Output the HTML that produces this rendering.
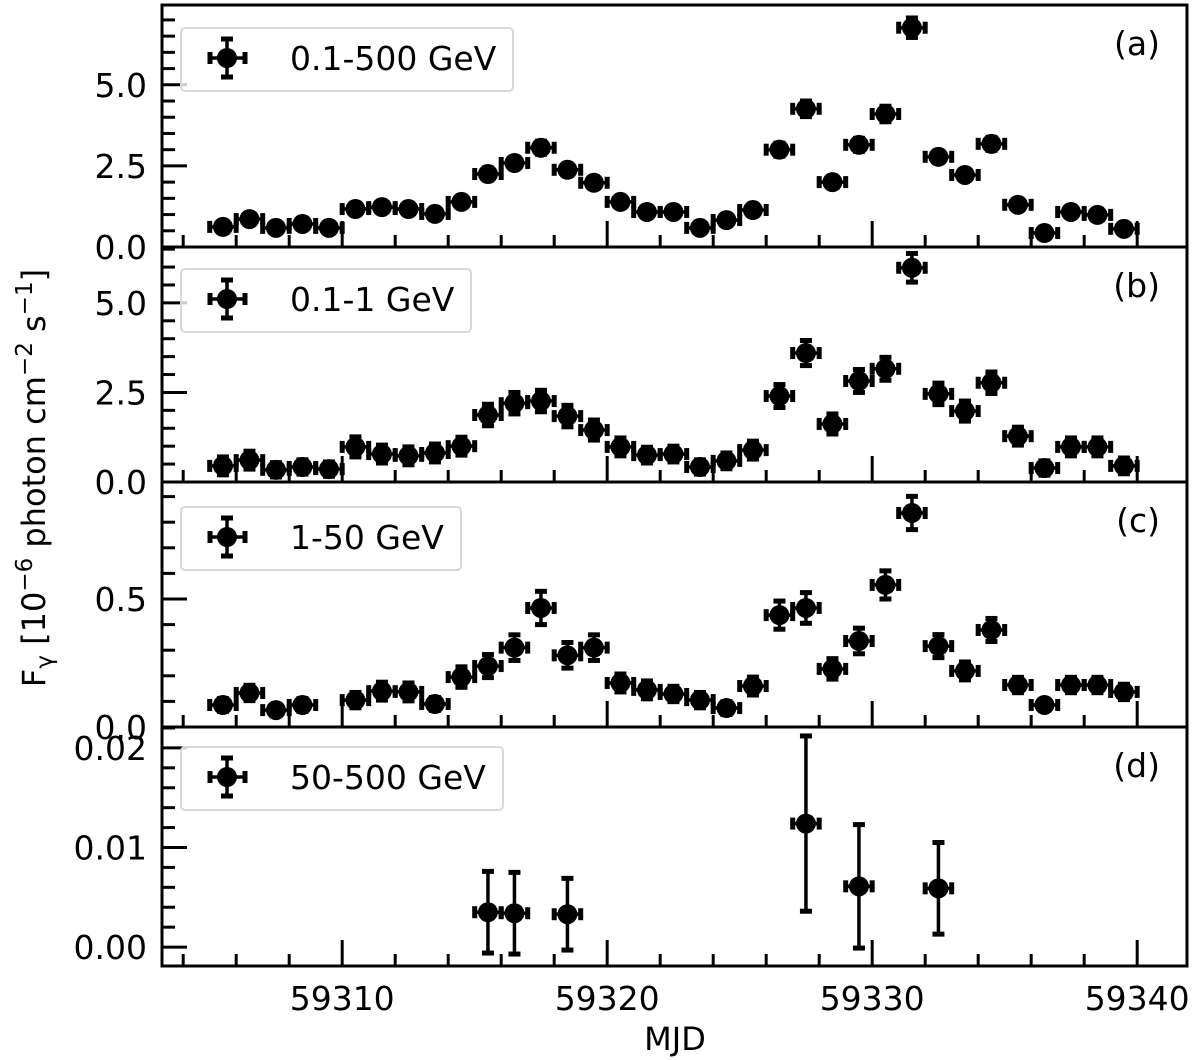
<!DOCTYPE html>
<html><head><meta charset="utf-8"><style>
body{margin:0;background:#fff;}
svg{display:block;font-family:"DejaVu Sans","Liberation Sans",sans-serif;}
</style></head><body>
<svg id="chart" width="1200" height="1060" viewBox="0 0 1200 1060" xmlns="http://www.w3.org/2000/svg">
<text transform="translate(45,478) rotate(-90)" text-anchor="middle" font-size="32">F<tspan font-size="23" dy="7">γ</tspan><tspan dy="-7"> [10</tspan><tspan font-size="23" dy="-13">−6</tspan><tspan dy="13"> photon cm</tspan><tspan font-size="23" dy="-13">−2</tspan><tspan dy="13"> s</tspan><tspan font-size="23" dy="-13">−1</tspan><tspan dy="13">]</tspan></text>
<text x="675" y="1050" text-anchor="middle" font-size="32">MJD</text>
</svg>
<script>
const startMJD = 59305.5;
const fluxA = [0.62,0.86,0.59,0.71,0.59,1.17,1.23,1.17,1.02,1.39,2.25,2.59,3.06,2.38,1.98,1.39,1.08,1.08,0.59,0.83,1.14,3.0,4.26,2.0,3.15,4.1,6.76,2.78,2.22,3.18,1.3,0.43,1.08,0.99,0.56];
const errA = [0.12,0.12,0.12,0.12,0.12,0.14,0.14,0.14,0.14,0.14,0.18,0.18,0.2,0.18,0.16,0.14,0.14,0.14,0.12,0.12,0.14,0.2,0.24,0.16,0.2,0.24,0.3,0.18,0.16,0.2,0.14,0.1,0.14,0.14,0.12];
const fluxB = [0.45,0.61,0.34,0.42,0.36,0.98,0.78,0.73,0.81,1.0,1.87,2.2,2.26,1.84,1.45,0.98,0.75,0.78,0.42,0.59,0.89,2.4,3.6,1.62,2.82,3.16,5.98,2.46,1.98,2.77,1.28,0.39,0.98,0.98,0.45];
const errB = [0.25,0.25,0.2,0.2,0.2,0.28,0.25,0.25,0.25,0.25,0.3,0.3,0.3,0.3,0.28,0.25,0.22,0.22,0.2,0.22,0.25,0.32,0.35,0.28,0.32,0.32,0.4,0.3,0.28,0.3,0.25,0.2,0.25,0.25,0.22];
const fluxC = [0.086,0.133,0.066,0.086,null,0.105,0.14,0.137,0.09,0.195,0.238,0.31,0.465,0.28,0.31,0.172,0.145,0.129,0.105,0.074,0.16,0.437,0.465,0.227,0.336,0.555,0.836,0.316,0.219,0.379,0.164,0.086,0.164,0.164,0.137];
const errC = [0.025,0.03,0.02,0.025,null,0.03,0.035,0.035,0.025,0.04,0.045,0.05,0.065,0.05,0.05,0.035,0.035,0.03,0.03,0.025,0.035,0.055,0.06,0.04,0.05,0.055,0.065,0.045,0.035,0.045,0.03,0.02,0.03,0.03,0.03];
const datesD = [59315.5,59316.5,59318.5,59327.5,59329.5,59332.5];
const fluxD = [0.0035,0.0034,0.0033,0.0124,0.0061,0.0059];
const errD = [0.0041,0.0041,0.0036,0.0088,0.0062,0.0046];
const xTicks = [59310,59320,59330,59340];

const svg = document.getElementById('chart');
const NS = 'http://www.w3.org/2000/svg';
const X0 = 162, X1 = 1187;
const xmin = 59303.2, xmax = 59341.88;
function xs(d){ return X0 + (d - xmin) / (xmax - xmin) * (X1 - X0); }
function mk(tag, attrs, parent){
  const e = document.createElementNS(NS, tag);
  for (const k in attrs) e.setAttribute(k, attrs[k]);
  (parent || svg).appendChild(e);
  return e;
}
const panels = [
 {id:'a', top:5, bot:247, ymin:0, ymax:7.46, major:[0,2.5,5.0], fmt:v=>v.toFixed(1), minor:0.5, label:'0.1-500 GeV', lw:332, ly:28,
  dates:fluxA.map((v,i)=>startMJD+i), vals:fluxA, errs:errA},
 {id:'b', top:247, bot:482, ymin:0, ymax:6.56, major:[0,2.5,5.0], fmt:v=>v.toFixed(1), minor:0.5, label:'0.1-1 GeV', lw:290, ly:269,
  dates:fluxB.map((v,i)=>startMJD+i), vals:fluxB, errs:errB},
 {id:'c', top:482, bot:727, ymin:0, ymax:0.957, major:[0,0.5], fmt:v=>v.toFixed(1), minor:0.1, label:'1-50 GeV', lw:280, ly:507,
  dates:fluxC.map((v,i)=>startMJD+i), vals:fluxC, errs:errC},
 {id:'d', top:727, bot:966, ymin:-0.0019, ymax:0.0221, major:[0,0.01,0.02], fmt:v=>v.toFixed(2), minor:0.002, label:'50-500 GeV', lw:322, ly:747,
  dates:datesD, vals:fluxD, errs:errD}
];
panels.forEach((p, pi) => {
  const g = mk('g', {});
  
  
  const ys = v => p.bot - (v - p.ymin) / (p.ymax - p.ymin) * (p.bot - p.top);
  const yticks = mk('g', {stroke:'#000','stroke-width':3}, g);
  
  
  for (let v = Math.ceil(p.ymin / p.minor) * p.minor; v <= p.ymax + 1e-9; v += p.minor) {
    const isMaj = p.major.some(m => Math.abs(m - v) < p.minor / 10);
    const y = ys(v);
    mk('line', {x1:X0, x2:X0 + (isMaj ? 25 : 13), y1:y, y2:y}, yticks);
  }
  p.major.forEach(m => {
    const t = mk('text', {x:147, y:ys(m) + 12, 'text-anchor':'end', 'font-size':33, fill:'#000'}, g);
    
    
    t.textContent = p.fmt(m);
  });
  const xt = mk('g', {stroke:'#000','stroke-width':3}, g);
  
  
  for (let d = 59304; d <= 59341; d += 2) {
    const isMaj = d % 10 === 0;
    const x = xs(d);
    mk('line', {x1:x, x2:x, y1:p.bot, y2:p.bot - (isMaj ? 26 : 12)}, xt);
  }
  const series = mk('g', {fill:'#000', stroke:'#000', 'stroke-width':3.5}, g);
  
  
  p.vals.forEach((v, i) => {
    if (v === null) return;
    const x = xs(p.dates[i]), y = ys(v);
    const xl = xs(p.dates[i] - 0.5), xr = xs(p.dates[i] + 0.5);
    const yt = ys(v + p.errs[i]), yb = ys(v - p.errs[i]);
    const pt = mk('g', {}, series);
    
    
    mk('line', {x1:xl, x2:xr, y1:y, y2:y}, pt);
    mk('line', {x1:x, x2:x, y1:yt, y2:yb}, pt);
    mk('line', {x1:xl, x2:xl, y1:y - 6, y2:y + 6, 'stroke-width':5}, pt);
    mk('line', {x1:xr, x2:xr, y1:y - 6, y2:y + 6, 'stroke-width':5}, pt);
    mk('line', {x1:x - 6, x2:x + 6, y1:yt, y2:yt, 'stroke-width':5}, pt);
    mk('line', {x1:x - 6, x2:x + 6, y1:yb, y2:yb, 'stroke-width':5}, pt);
    mk('circle', {cx:x, cy:y, r:10, stroke:'none'}, pt);
  });
  const lg = mk('g', {}, g);
  
  
  mk('rect', {x:181, y:p.ly, width:p.lw, height:63, rx:4, fill:'#fff', 'fill-opacity':0.8, stroke:'#d8d8d8', 'stroke-width':2}, lg);
  const cy = p.ly + 30;
  const lm = mk('g', {stroke:'#000', 'stroke-width':3.5}, lg);
  mk('line', {x1:210, x2:245, y1:cy, y2:cy}, lm);
  mk('line', {x1:227, x2:227, y1:cy - 19, y2:cy + 19}, lm);
  mk('line', {x1:210, x2:210, y1:cy - 6, y2:cy + 6, 'stroke-width':5}, lm);
  mk('line', {x1:245, x2:245, y1:cy - 6, y2:cy + 6, 'stroke-width':5}, lm);
  mk('line', {x1:221, x2:233, y1:cy - 19, y2:cy - 19, 'stroke-width':5}, lm);
  mk('line', {x1:221, x2:233, y1:cy + 19, y2:cy + 19, 'stroke-width':5}, lm);
  mk('circle', {cx:227, cy:cy, r:10, fill:'#000', stroke:'none'}, lm);
  const lt = mk('text', {x:290, y:cy + 12, 'font-size':33, fill:'#000'}, lg);
  
  
  lt.textContent = p.label;
  const pl = mk('text', {x:1160, y:p.top + 50, 'text-anchor':'end', 'font-size':33, fill:'#000'}, g);
  
  
  pl.textContent = '(' + p.id + ')';
  const fr = mk('rect', {x:X0, y:p.top, width:X1 - X0, height:p.bot - p.top, fill:'none', stroke:'#000', 'stroke-width':3}, g);
  
  
});
xTicks.forEach(d => {
  const t = mk('text', {x:xs(d), y:1010, 'text-anchor':'middle', 'font-size':33, fill:'#000'});
  
  
  t.textContent = d;
});
</script>
</body></html>
